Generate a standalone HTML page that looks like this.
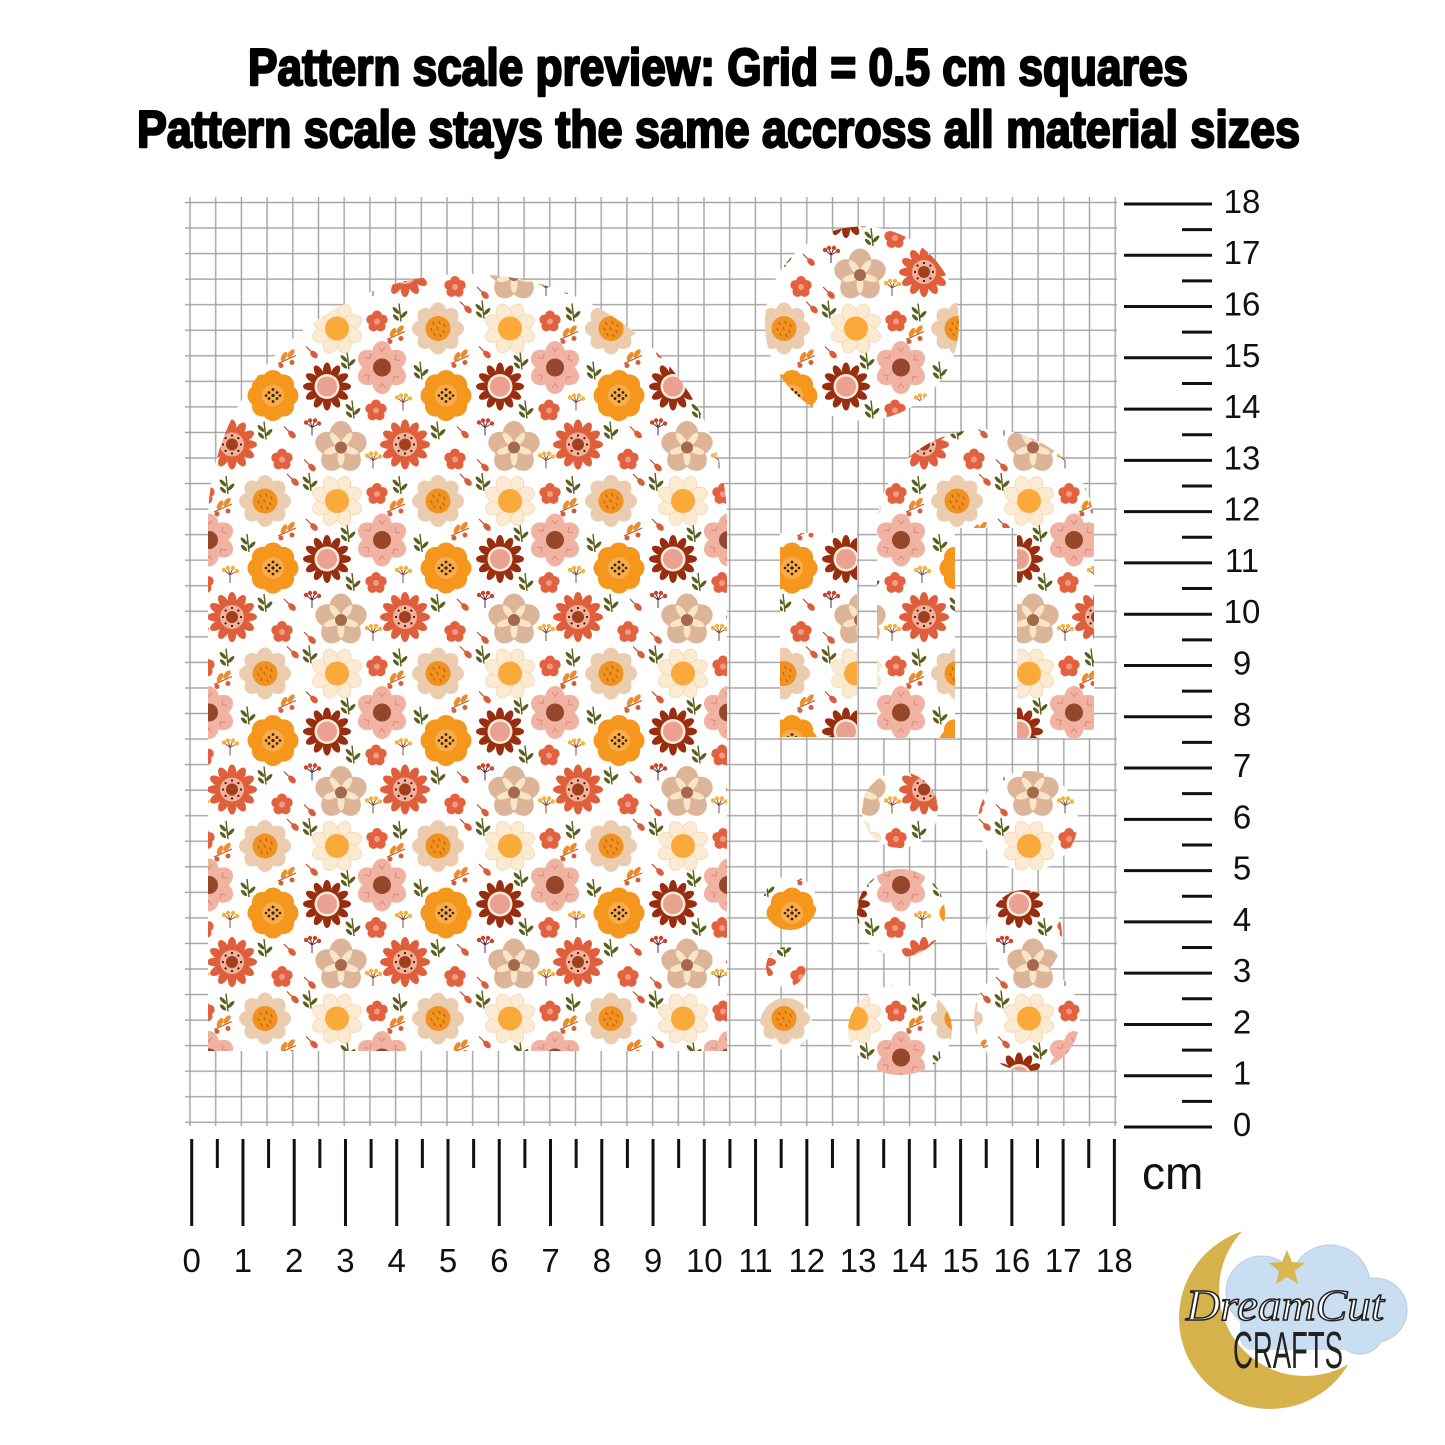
<!DOCTYPE html>
<html>
<head>
<meta charset="utf-8">
<style>
html,body{margin:0;padding:0;background:#fff;}
svg{display:block;}
</style>
</head>
<body>
<svg width="1445" height="1445" viewBox="0 0 1445 1445" xmlns="http://www.w3.org/2000/svg">
<defs>
  <g id="fA">
    <g fill="#ebccaf">
      <ellipse cy="-14" rx="9" ry="12"/>
      <ellipse cy="-14" rx="9" ry="12" transform="rotate(45)"/>
      <ellipse cy="-14" rx="9" ry="12" transform="rotate(90)"/>
      <ellipse cy="-14" rx="9" ry="12" transform="rotate(135)"/>
      <ellipse cy="-14" rx="9" ry="12" transform="rotate(180)"/>
      <ellipse cy="-14" rx="9" ry="12" transform="rotate(225)"/>
      <ellipse cy="-14" rx="9" ry="12" transform="rotate(270)"/>
      <ellipse cy="-14" rx="9" ry="12" transform="rotate(315)"/>
    </g>
    <circle r="12.5" fill="#ef921f"/>
    <path d="M-5,-6l1,2M1,-7l1,2M6,-4l1,2M-7,0l1,2M-1,-1l1,2M5,2l1,2M-4,5l1,2M2,6l1,2" stroke="#c2600f" stroke-width="1.3" stroke-linecap="round"/>
  </g>
  <g id="fB">
    <g fill="#fcebd2" stroke="#f2d6ad" stroke-width="0.8">
      <ellipse cy="-15" rx="7.5" ry="11" transform="rotate(22.5)"/>
      <ellipse cy="-15" rx="7.5" ry="11" transform="rotate(67.5)"/>
      <ellipse cy="-15" rx="7.5" ry="11" transform="rotate(112.5)"/>
      <ellipse cy="-15" rx="7.5" ry="11" transform="rotate(157.5)"/>
      <ellipse cy="-15" rx="7.5" ry="11" transform="rotate(202.5)"/>
      <ellipse cy="-15" rx="7.5" ry="11" transform="rotate(247.5)"/>
      <ellipse cy="-15" rx="7.5" ry="11" transform="rotate(292.5)"/>
      <ellipse cy="-15" rx="7.5" ry="11" transform="rotate(337.5)"/>
    </g>
    <circle r="12" fill="#f9aa3a"/>
  </g>
  <g id="fC">
    <g fill="#f0b2a1">
      <ellipse cy="-14" rx="10" ry="12.5"/>
      <ellipse cy="-14" rx="10" ry="12.5" transform="rotate(60)"/>
      <ellipse cy="-14" rx="10" ry="12.5" transform="rotate(120)"/>
      <ellipse cy="-14" rx="10" ry="12.5" transform="rotate(180)"/>
      <ellipse cy="-14" rx="10" ry="12.5" transform="rotate(240)"/>
      <ellipse cy="-14" rx="10" ry="12.5" transform="rotate(300)"/>
    </g>
    <path d="M-3,-20l3,4l3,-4M-3,20l3,-4l3,4M14,-13l-1,5l5,1M-14,13l1,-5l-5,-1M17,10l-5,-1l-1,5M-17,-10l5,1l1,-5" stroke="#e08e85" stroke-width="1.2" fill="none"/>
    <circle r="9" fill="#94472a"/>
  </g>
  <g id="fD">
    <g fill="#f5961d">
      <circle cx="0" cy="-15" r="10.5"/>
      <circle cx="10.6" cy="-10.6" r="10.5"/>
      <circle cx="15" cy="0" r="10.5"/>
      <circle cx="10.6" cy="10.6" r="10.5"/>
      <circle cx="0" cy="15" r="10.5"/>
      <circle cx="-10.6" cy="10.6" r="10.5"/>
      <circle cx="-15" cy="0" r="10.5"/>
      <circle cx="-10.6" cy="-10.6" r="10.5"/>
      <circle r="14"/>
    </g>
    <circle r="11" fill="#f8ad4c"/>
    <g fill="#3b1f0c">
      <circle cx="0" cy="0" r="1.6"/><circle cx="-4" cy="-3" r="1.4"/><circle cx="4" cy="-3" r="1.4"/>
      <circle cx="-4" cy="3" r="1.4"/><circle cx="4" cy="3" r="1.4"/><circle cx="0" cy="-6" r="1.4"/>
      <circle cx="0" cy="6" r="1.4"/><circle cx="-7" cy="0" r="1.3"/><circle cx="7" cy="0" r="1.3"/>
    </g>
  </g>
  <g id="fE">
    <g fill="#982d10">
      <ellipse cy="-16" rx="4" ry="8"/>
      <ellipse cy="-16" rx="4" ry="8" transform="rotate(30)"/>
      <ellipse cy="-16" rx="4" ry="8" transform="rotate(60)"/>
      <ellipse cy="-16" rx="4" ry="8" transform="rotate(90)"/>
      <ellipse cy="-16" rx="4" ry="8" transform="rotate(120)"/>
      <ellipse cy="-16" rx="4" ry="8" transform="rotate(150)"/>
      <ellipse cy="-16" rx="4" ry="8" transform="rotate(180)"/>
      <ellipse cy="-16" rx="4" ry="8" transform="rotate(210)"/>
      <ellipse cy="-16" rx="4" ry="8" transform="rotate(240)"/>
      <ellipse cy="-16" rx="4" ry="8" transform="rotate(270)"/>
      <ellipse cy="-16" rx="4" ry="8" transform="rotate(300)"/>
      <ellipse cy="-16" rx="4" ry="8" transform="rotate(330)"/>
    </g>
    <circle r="12.5" fill="#fcebd9"/>
    <circle r="10" fill="#eba192"/>
  </g>
  <g id="fF">
    <g fill="#df5f3c">
      <ellipse cy="-16" rx="4.5" ry="9"/>
      <ellipse cy="-16" rx="4.5" ry="9" transform="rotate(30)"/>
      <ellipse cy="-16" rx="4.5" ry="9" transform="rotate(60)"/>
      <ellipse cy="-16" rx="4.5" ry="9" transform="rotate(90)"/>
      <ellipse cy="-16" rx="4.5" ry="9" transform="rotate(120)"/>
      <ellipse cy="-16" rx="4.5" ry="9" transform="rotate(150)"/>
      <ellipse cy="-16" rx="4.5" ry="9" transform="rotate(180)"/>
      <ellipse cy="-16" rx="4.5" ry="9" transform="rotate(210)"/>
      <ellipse cy="-16" rx="4.5" ry="9" transform="rotate(240)"/>
      <ellipse cy="-16" rx="4.5" ry="9" transform="rotate(270)"/>
      <ellipse cy="-16" rx="4.5" ry="9" transform="rotate(300)"/>
      <ellipse cy="-16" rx="4.5" ry="9" transform="rotate(330)"/>
    </g>
    <circle r="12" fill="#f2b29b"/>
    <g fill="#3a1a10">
      <circle cx="0" cy="-9" r="1.1"/><circle cx="6.4" cy="-6.4" r="1.1"/><circle cx="9" cy="0" r="1.1"/>
      <circle cx="6.4" cy="6.4" r="1.1"/><circle cx="0" cy="9" r="1.1"/><circle cx="-6.4" cy="6.4" r="1.1"/>
      <circle cx="-9" cy="0" r="1.1"/><circle cx="-6.4" cy="-6.4" r="1.1"/>
    </g>
    <circle r="6" fill="#a13f1f"/>
  </g>
  <g id="fG">
    <g fill="#dcb497">
      <ellipse cy="-13" rx="11.5" ry="13.5"/>
      <ellipse cy="-13" rx="11.5" ry="13.5" transform="rotate(72)"/>
      <ellipse cy="-13" rx="11.5" ry="13.5" transform="rotate(144)"/>
      <ellipse cy="-13" rx="11.5" ry="13.5" transform="rotate(216)"/>
      <ellipse cy="-13" rx="11.5" ry="13.5" transform="rotate(288)"/>
    </g>
    <g fill="#fbe5ca">
      <ellipse cy="-9" rx="3.5" ry="9" transform="rotate(36)"/>
      <ellipse cy="-9" rx="3.5" ry="9" transform="rotate(108)"/>
      <ellipse cy="-9" rx="3.5" ry="9" transform="rotate(180)"/>
      <ellipse cy="-9" rx="3.5" ry="9" transform="rotate(252)"/>
      <ellipse cy="-9" rx="3.5" ry="9" transform="rotate(324)"/>
    </g>
    <circle r="6" fill="#a5694b"/>
  </g>
  <g id="fH">
    <g fill="#e2613f">
      <circle cx="0" cy="-6" r="5"/><circle cx="5.7" cy="-1.85" r="5"/><circle cx="3.53" cy="4.85" r="5"/>
      <circle cx="-3.53" cy="4.85" r="5"/><circle cx="-5.7" cy="-1.85" r="5"/>
    </g>
    <circle r="3" fill="#ef9b87"/>
  </g>
  <g id="lL" fill="#5b5f1d">
    <path d="M1,9 Q0,0 -1,-9" stroke="#5b5f1d" stroke-width="1.4" fill="none"/>
    <ellipse cx="-4" cy="-2" rx="1.8" ry="4.5" transform="rotate(-45 -4 -2)"/>
    <ellipse cx="4" cy="2" rx="1.8" ry="4.5" transform="rotate(45 4 2)"/>
    <ellipse cx="-4" cy="5" rx="1.8" ry="4" transform="rotate(-45 -4 5)"/>
  </g>
  <g id="bR">
    <path d="M-6,-6 L0,0" stroke="#b84a2a" stroke-width="1.2"/>
    <ellipse cx="2" cy="2" rx="3" ry="4.5" transform="rotate(-45 2 2)" fill="#d85e3b"/>
  </g>
  <g id="sS">
    <path d="M-9,4 Q0,0 9,-4" stroke="#b85a2a" stroke-width="1.2" fill="none"/>
    <ellipse cx="-3" cy="-3" rx="2.5" ry="5" transform="rotate(30 -3 -3)" fill="#ed8c2a"/>
    <ellipse cx="4" cy="-6" rx="2.5" ry="5" transform="rotate(40 4 -6)" fill="#ed8c2a"/>
    <circle cx="5" cy="3" r="2.5" fill="#d85e3b"/>
    <circle cx="-6" cy="6" r="2.5" fill="#d85e3b"/>
  </g>
  <g id="yB">
    <path d="M0,8 L0,0 M0,0 L-6,-5 M0,0 L-2,-7 M0,0 L3,-7 M0,0 L7,-4" stroke="#8a4a3a" stroke-width="1" fill="none"/>
    <g fill="#f4b43c"><circle cx="-6" cy="-5" r="2.2"/><circle cx="-2" cy="-7" r="2.2"/><circle cx="3" cy="-7" r="2.2"/><circle cx="7" cy="-4" r="2.2"/></g>
  </g>
  <g id="dB">
    <path d="M0,8 L0,0 M0,0 L-6,-5 M0,0 L-2,-7 M0,0 L3,-7 M0,0 L7,-4" stroke="#5a2a3a" stroke-width="1" fill="none"/>
    <g fill="#c8452a"><circle cx="-6" cy="-5" r="2.2"/><circle cx="-2" cy="-7" r="2.2"/><circle cx="3" cy="-7" r="2.2"/><circle cx="7" cy="-4" r="2.2"/></g>
  </g>

  <pattern id="fl" patternUnits="userSpaceOnUse" x="245" y="471" width="173" height="172.5">
    <rect width="173" height="172.5" fill="#fff"/>
    <use href="#lL" x="155" y="14"/><use href="#lL" x="-18" y="14"/>
    <use href="#lL" x="65" y="11"/><use href="#lL" x="65" y="183.5"/>
    <use href="#lL" x="3" y="72"/><use href="#lL" x="176" y="72"/>
    <use href="#lL" x="103" y="62"/><use href="#lL" x="108" y="111"/><use href="#lL" x="20" y="132"/>
    <use href="#bR" x="48" y="9"/><use href="#bR" x="67" y="54"/><use href="#bR" x="45" y="134"/>
    <use href="#bR" x="65" y="167"/><use href="#bR" x="65" y="-5.5"/>
    <use href="#sS" x="151" y="37"/><use href="#sS" x="-22" y="37"/><use href="#sS" x="42" y="61"/>
    <use href="#yB" x="158" y="104"/><use href="#yB" x="-15" y="104"/>
    <use href="#yB" x="128" y="162"/><use href="#yB" x="128" y="-10.5"/>
    <use href="#dB" x="67" y="129"/>
    <use href="#fA" x="20" y="30"/><use href="#fA" x="193" y="30"/>
    <use href="#fB" x="92" y="30"/>
    <use href="#fH" x="132" y="23"/>
    <use href="#fC" x="137" y="69"/>
    <use href="#fD" x="28" y="97"/>
    <use href="#fE" x="82" y="88"/>
    <use href="#fH" x="131" y="112"/>
    <use href="#fF" x="160" y="146"/><use href="#fF" x="-13" y="146"/>
    <use href="#fG" x="96" y="149"/><use href="#fG" x="96" y="-23.5"/>
    <use href="#fH" x="37" y="161"/>
  </pattern>

  <pattern id="grid" patternUnits="userSpaceOnUse" x="177.15" y="189.725" width="25.7" height="25.55">
    <rect x="12.15" y="0" width="1.4" height="25.55" fill="#a3a3a3"/>
    <rect x="0" y="12.075" width="25.7" height="1.4" fill="#a3a3a3"/>
  </pattern>

  <mask id="moonm">
    <rect x="1150" y="1200" width="295" height="245" fill="#fff"/>
    <circle cx="1305" cy="1290" r="86" fill="#000"/>
  </mask>
</defs>

<rect width="1445" height="1445" fill="#fff"/>

<g font-family="'Liberation Sans', Arial, sans-serif" font-weight="bold" fill="#000" stroke="#000" stroke-width="2.4" stroke-linejoin="round">
  <text x="248" y="85" font-size="52" textLength="940" lengthAdjust="spacingAndGlyphs">Pattern scale preview: Grid = 0.5 cm squares</text>
  <text x="137" y="147" font-size="52" textLength="1163" lengthAdjust="spacingAndGlyphs">Pattern scale stays the same accross all material sizes</text>
</g>

<rect x="185" y="197" width="932" height="929" fill="url(#grid)"/>

<g fill="url(#fl)">
  <path d="M208,1051 L208,522 A259.5,248 0 0 1 727,522 L727,1051 Z"/>
  <circle cx="862" cy="323.5" r="97"/>
  <rect x="780" y="533" width="77" height="204"/>
  <path d="M877,738 L877,526 A108.5,97 0 0 1 1094,526 L1094,738 L1017,738 L1017,528 L955,528 L955,738 Z"/>
  <circle cx="900" cy="810" r="38"/>
  <circle cx="1028" cy="821" r="50"/>
  <circle cx="790" cy="903" r="27"/>
  <circle cx="786" cy="967" r="20"/>
  <circle cx="786" cy="1024" r="26"/>
  <circle cx="901" cy="913" r="44"/>
  <ellipse cx="900" cy="1030" rx="52" ry="45"/>
  <circle cx="1027" cy="1018" r="53"/>
  <ellipse cx="1024" cy="935" rx="38" ry="45"/>
</g>

<path stroke="#111" stroke-width="3" fill="none" d="
M191.7,1139V1226 M242.96,1139V1226 M294.22,1139V1226 M345.48,1139V1226 M396.74,1139V1226
M448,1139V1226 M499.26,1139V1226 M550.52,1139V1226 M601.78,1139V1226 M653.04,1139V1226
M704.3,1139V1226 M755.56,1139V1226 M806.82,1139V1226 M858.08,1139V1226 M909.34,1139V1226
M960.6,1139V1226 M1011.86,1139V1226 M1063.12,1139V1226 M1114.38,1139V1226
M217.33,1139V1168 M268.59,1139V1168 M319.85,1139V1168 M371.11,1139V1168 M422.37,1139V1168
M473.63,1139V1168 M524.89,1139V1168 M576.15,1139V1168 M627.41,1139V1168 M678.67,1139V1168
M729.93,1139V1168 M781.19,1139V1168 M832.45,1139V1168 M883.71,1139V1168 M934.97,1139V1168
M986.23,1139V1168 M1037.49,1139V1168 M1088.75,1139V1168"/>
<g font-family="'Liberation Sans', Arial, sans-serif" font-size="33" fill="#111" text-anchor="middle">
  <text x="191.7" y="1272">0</text><text x="242.96" y="1272">1</text><text x="294.22" y="1272">2</text>
  <text x="345.48" y="1272">3</text><text x="396.74" y="1272">4</text><text x="448" y="1272">5</text>
  <text x="499.26" y="1272">6</text><text x="550.52" y="1272">7</text><text x="601.78" y="1272">8</text>
  <text x="653.04" y="1272">9</text><text x="704.3" y="1272">10</text><text x="755.56" y="1272">11</text>
  <text x="806.82" y="1272">12</text><text x="858.08" y="1272">13</text><text x="909.34" y="1272">14</text>
  <text x="960.6" y="1272">15</text><text x="1011.86" y="1272">16</text><text x="1063.12" y="1272">17</text>
  <text x="1114.38" y="1272">18</text>
</g>

<path stroke="#111" stroke-width="3" fill="none" d="
M1124,1127H1212 M1124,1075.72H1212 M1124,1024.44H1212 M1124,973.16H1212 M1124,921.88H1212
M1124,870.6H1212 M1124,819.32H1212 M1124,768.04H1212 M1124,716.76H1212 M1124,665.48H1212
M1124,614.2H1212 M1124,562.92H1212 M1124,511.64H1212 M1124,460.36H1212 M1124,409.08H1212
M1124,357.8H1212 M1124,306.52H1212 M1124,255.24H1212 M1124,203.96H1212
M1182,1101.36H1212 M1182,1050.08H1212 M1182,998.8H1212 M1182,947.52H1212 M1182,896.24H1212
M1182,844.96H1212 M1182,793.68H1212 M1182,742.4H1212 M1182,691.12H1212 M1182,639.84H1212
M1182,588.56H1212 M1182,537.28H1212 M1182,486H1212 M1182,434.72H1212 M1182,383.44H1212
M1182,332.16H1212 M1182,280.88H1212 M1182,229.6H1212"/>
<g font-family="'Liberation Sans', Arial, sans-serif" font-size="33" fill="#111" text-anchor="middle">
  <text x="1242" y="1136">0</text><text x="1242" y="1084.72">1</text><text x="1242" y="1033.44">2</text>
  <text x="1242" y="982.16">3</text><text x="1242" y="930.88">4</text><text x="1242" y="879.6">5</text>
  <text x="1242" y="828.32">6</text><text x="1242" y="777.04">7</text><text x="1242" y="725.76">8</text>
  <text x="1242" y="674.48">9</text><text x="1242" y="623.2">10</text><text x="1242" y="571.92">11</text>
  <text x="1242" y="520.64">12</text><text x="1242" y="469.36">13</text><text x="1242" y="418.08">14</text>
  <text x="1242" y="366.8">15</text><text x="1242" y="315.52">16</text><text x="1242" y="264.24">17</text>
  <text x="1242" y="212.96">18</text>
</g>
<text x="1142" y="1189" font-family="'Liberation Sans', Arial, sans-serif" font-size="46" fill="#111">cm</text>

<g>
  <g fill="#c9def0" stroke="#b6cde3" stroke-width="1">
    <circle cx="1262" cy="1292" r="36"/>
    <circle cx="1330" cy="1285" r="40"/>
    <circle cx="1375" cy="1310" r="32"/>
    <circle cx="1360" cy="1330" r="24"/>
  </g>
  <rect x="1240" y="1290" width="140" height="60" rx="12" fill="#c9def0"/>
  <circle cx="1330" cy="1285" r="39" fill="#c9def0"/>
  <circle cx="1375" cy="1310" r="31" fill="#c9def0"/>
  <circle cx="1262" cy="1292" r="35" fill="#c9def0"/>
  <circle cx="1360" cy="1330" r="23" fill="#c9def0"/>
  <circle cx="1270" cy="1318" r="91" fill="#d5b24c" mask="url(#moonm)"/>
  <polygon points="1287,1250 1292,1262 1305,1263 1295,1271 1298,1284 1287,1277 1276,1284 1279,1271 1269,1263 1282,1262" fill="#d9b650"/>
  <text x="1186" y="1320" font-family="'Liberation Serif', serif" font-style="italic" font-size="44" fill="#fff" stroke="#222" stroke-width="1.5" textLength="198" lengthAdjust="spacingAndGlyphs">DreamCut</text>
  <text x="1233" y="1368" font-family="'Liberation Sans', Arial, sans-serif" font-size="52" fill="#222" textLength="110" lengthAdjust="spacingAndGlyphs">CRAFTS</text>
</g>
</svg>
</body>
</html>
